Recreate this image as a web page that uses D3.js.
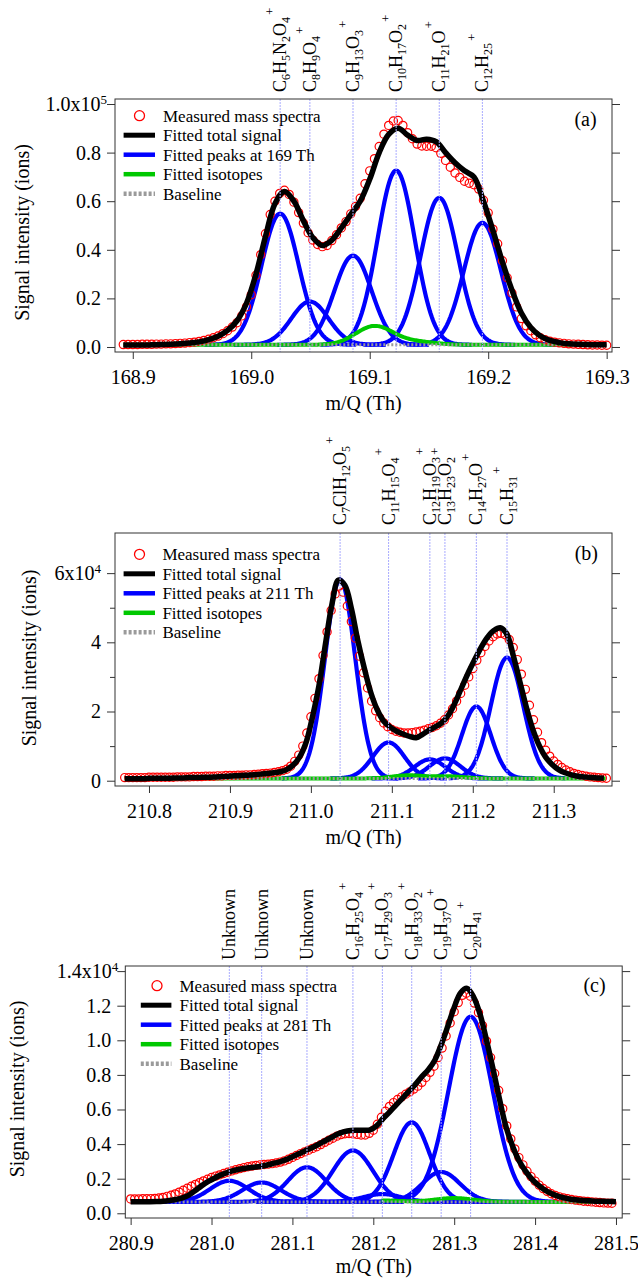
<!DOCTYPE html>
<html>
<head>
<meta charset="utf-8">
<script src="https://cdn.jsdelivr.net/npm/d3@7"></script>
<style>
  body { margin: 0; background: #fff; }
  svg, svg text, svg tspan { font-family: "Liberation Serif", "DejaVu Serif", "Times New Roman", serif; }
  text { fill: #000; }
</style>
</head>
<body>
<div id="chart"></div>
<script>
// ---------- panel (a): 169 Th ----------
const aIons = ["C6H5N2O4", "C8H9O4", "C9H13O3", "C10H17O2", "C11H21O", "C12H25"];
const aIonMass = [169.0244, 169.0495, 169.0859, 169.1223, 169.1587, 169.1951];
const aPeakHeight = [0.54, 0.178, 0.367, 0.717, 0.605, 0.502];
const aPeakFwhm = [0.037, 0.037, 0.037, 0.037, 0.037, 0.037];
const aIsoMass = [169.104, 169.14];
const aIsoHeight = [0.077, 0.012];
const aBaseline = 0.009;
const aMeasStart = 168.892, aMeasStep = 0.004;
const aMeasured = [
  0.010, 0.010, 0.010, 0.010, 0.011, 0.011, 0.011, 0.012, 0.012, 0.013,
  0.013, 0.014, 0.015, 0.016, 0.018, 0.020, 0.023, 0.027, 0.032, 0.038,
  0.045, 0.055, 0.067, 0.082, 0.100, 0.128, 0.165, 0.215, 0.295, 0.380,
  0.466, 0.545, 0.600, 0.632, 0.645, 0.628, 0.596, 0.553, 0.510, 0.470,
  0.440, 0.422, 0.413, 0.418, 0.438, 0.462, 0.490, 0.516, 0.548, 0.578,
  0.612, 0.672, 0.725, 0.775, 0.825, 0.876, 0.912, 0.930, 0.932, 0.912,
  0.882, 0.857, 0.835, 0.827, 0.826, 0.826, 0.820, 0.797, 0.768, 0.740,
  0.716, 0.698, 0.682, 0.674, 0.668, 0.650, 0.604, 0.552, 0.485, 0.425,
  0.355, 0.285, 0.222, 0.165, 0.117, 0.087, 0.067, 0.050, 0.038, 0.030,
  0.024, 0.020, 0.017, 0.015, 0.013, 0.012, 0.011, 0.010, 0.009, 0.008,
  0.008, 0.007, 0.007];
const aFitStart = 168.892, aFitStep = 0.008;
const aFitTotal = [
  0.008, 0.008, 0.008, 0.009, 0.010, 0.011, 0.013, 0.016, 0.021, 0.030,
  0.044, 0.068, 0.108, 0.180, 0.300, 0.455, 0.590, 0.640, 0.600, 0.520,
  0.450, 0.418, 0.440, 0.490, 0.545, 0.600, 0.690, 0.800, 0.875, 0.900,
  0.872, 0.850, 0.855, 0.845, 0.800, 0.758, 0.725, 0.700, 0.600, 0.480,
  0.350, 0.235, 0.140, 0.080, 0.045, 0.027, 0.018, 0.013, 0.011, 0.010,
  0.009, 0.009];
const aTicksX = [168.9, 169.0, 169.1, 169.2, 169.3];
const aTicksY = [0, 0.2, 0.4, 0.6, 0.8, 1.0];
const aTickLabelsY = ["0.0", "0.2", "0.4", "0.6", "0.8", "1.0x10"];
const aLegend = ["Measured mass spectra", "Fitted total signal", "Fitted peaks at 169 Th", "Fitted isotopes", "Baseline"];

// ---------- panel (b): 211 Th ----------
const bIons = ["C7ClH12O5", "C11H15O4", "C12H19O3", "C13H23O2", "C14H27O", "C15H31"];
const bIonMass = [211.0361, 211.096, 211.147, 211.1656, 211.2044, 211.2423];
const bPeakHeight = [5.75, 1.04, 0.55, 0.58, 2.08, 3.49];
const bPeakFwhm = [0.044, 0.046, 0.045, 0.045, 0.042, 0.047];
const bIsoMass = [211.12, 211.17];
const bIsoHeight = [0.09, 0.06];
const bBaseline = 0.065;
const bMeasStart = 210.770, bMeasStep = 0.005;
const bMeasured = [
  0.09, 0.09, 0.09, 0.09, 0.09, 0.09, 0.10, 0.10, 0.10, 0.10,
  0.10, 0.10, 0.10, 0.11, 0.11, 0.11, 0.11, 0.12, 0.12, 0.12,
  0.13, 0.13, 0.13, 0.14, 0.14, 0.15, 0.15, 0.15, 0.16, 0.16,
  0.17, 0.17, 0.18, 0.19, 0.20, 0.21, 0.22, 0.24, 0.26, 0.29,
  0.33, 0.42, 0.56, 0.74, 1.00, 1.38, 1.85, 2.38, 2.95, 3.62,
  4.30, 4.92, 5.40, 5.62, 5.45, 5.05, 4.60, 4.12, 3.60, 3.12,
  2.68, 2.30, 2.02, 1.82, 1.67, 1.56, 1.48, 1.43, 1.40, 1.38,
  1.38, 1.39, 1.41, 1.43, 1.46, 1.50, 1.54, 1.59, 1.66, 1.76,
  1.90, 2.08, 2.30, 2.52, 2.76, 3.00, 3.24, 3.48, 3.70, 3.88,
  4.04, 4.16, 4.24, 4.26, 4.22, 4.08, 3.85, 3.50, 3.08, 2.64,
  2.18, 1.76, 1.40, 1.10, 0.88, 0.71, 0.57, 0.47, 0.38, 0.31,
  0.26, 0.21, 0.18, 0.15, 0.13, 0.11, 0.10, 0.09, 0.08, 0.07];
const bFitStart = 210.770, bFitStep = 0.008;
const bFitTotal = [
  0.06, 0.06, 0.06, 0.06, 0.07, 0.07, 0.07, 0.07, 0.08, 0.08,
  0.09, 0.09, 0.10, 0.10, 0.11, 0.12, 0.13, 0.14, 0.15, 0.16,
  0.17, 0.19, 0.21, 0.23, 0.26, 0.32, 0.45, 0.68, 1.10, 1.85,
  2.75, 3.95, 5.10, 5.80, 5.65, 4.98, 4.05, 3.25, 2.55, 2.05,
  1.72, 1.55, 1.43, 1.35, 1.28, 1.24, 1.34, 1.46, 1.56, 1.68,
  1.90, 2.25, 2.68, 3.10, 3.48, 3.84, 4.14, 4.34, 4.42, 4.24,
  3.62, 2.88, 2.14, 1.50, 1.02, 0.68, 0.47, 0.32, 0.23, 0.17,
  0.13, 0.11, 0.09, 0.08, 0.07];
const bTicksX = [210.8, 210.9, 211.0, 211.1, 211.2, 211.3];
const bTicksY = [0, 2, 4, 6];
const bMinorY = [1, 3, 5];
const bTickLabelsY = ["0", "2", "4", "6x10"];
const bLegend = ["Measured mass spectra", "Fitted total signal", "Fitted peaks at 211 Th", "Fitted isotopes", "Baseline"];

// ---------- panel (c): 281 Th ----------
const cIons = ["Unknown", "Unknown", "Unknown", "C16H25O4", "C17H29O3", "C18H33O2", "C19H37O", "C20H41"];
const cIonMass = [281.022, 281.062, 281.118, 281.1748, 281.2112, 281.2475, 281.2839, 281.3203];
const cPeakHeight = [0.122, 0.112, 0.20, 0.297, 0.045, 0.46, 0.173, 1.07];
const cPeakFwhm = [0.056, 0.056, 0.056, 0.058, 0.055, 0.052, 0.055, 0.064];
const cIsoMass = [281.30, 281.21];
const cIsoHeight = [0.022, 0.008];
const cBaseline = 0.066;
const cMeasStart = 280.900, cMeasStep = 0.005;
const cMeasured = [
  0.083, 0.083, 0.083, 0.084, 0.084, 0.085, 0.086, 0.088, 0.092, 0.098,
  0.104, 0.112, 0.122, 0.133, 0.145, 0.156, 0.167, 0.177, 0.187, 0.197,
  0.207, 0.215, 0.222, 0.230, 0.237, 0.245, 0.252, 0.258, 0.264, 0.269,
  0.273, 0.277, 0.280, 0.282, 0.284, 0.287, 0.291, 0.296, 0.303, 0.312,
  0.323, 0.334, 0.345, 0.355, 0.365, 0.375, 0.385, 0.397, 0.410, 0.422,
  0.434, 0.446, 0.455, 0.460, 0.461, 0.459, 0.456, 0.453, 0.453, 0.462,
  0.480, 0.515, 0.555, 0.590, 0.618, 0.640, 0.658, 0.673, 0.688, 0.702,
  0.718, 0.735, 0.757, 0.785, 0.815, 0.850, 0.900, 0.955, 1.025, 1.100,
  1.165, 1.218, 1.260, 1.272, 1.255, 1.215, 1.160, 1.085, 0.995, 0.900,
  0.808, 0.710, 0.605, 0.505, 0.430, 0.372, 0.322, 0.280, 0.243, 0.212,
  0.186, 0.163, 0.143, 0.127, 0.113, 0.103, 0.095, 0.089, 0.084, 0.080,
  0.076, 0.073, 0.070, 0.068, 0.066, 0.064, 0.062, 0.060, 0.059, 0.058];
const cFitStart = 280.900, cFitStep = 0.008;
const cFitTotal = [
  0.067, 0.067, 0.067, 0.067, 0.068, 0.070, 0.074, 0.080, 0.089, 0.105,
  0.132, 0.160, 0.184, 0.204, 0.222, 0.237, 0.248, 0.256, 0.262, 0.266,
  0.270, 0.278, 0.288, 0.297, 0.310, 0.327, 0.344, 0.362, 0.379, 0.398,
  0.418, 0.438, 0.458, 0.472, 0.479, 0.480, 0.480, 0.482, 0.505, 0.548,
  0.585, 0.625, 0.665, 0.705, 0.745, 0.790, 0.830, 0.885, 0.975, 1.080,
  1.190, 1.275, 1.300, 1.250, 1.150, 1.000, 0.835, 0.660, 0.500, 0.390,
  0.305, 0.245, 0.198, 0.163, 0.135, 0.114, 0.099, 0.089, 0.081, 0.077,
  0.074, 0.072, 0.070, 0.069, 0.068, 0.067];
const cTicksX = [280.9, 281.0, 281.1, 281.2, 281.3, 281.4, 281.5];
const cTicksY = [0, 0.2, 0.4, 0.6, 0.8, 1.0, 1.2, 1.4];
const cTickLabelsY = ["0.0", "0.2", "0.4", "0.6", "0.8", "1.0", "1.2", "1.4x10"];
const cLegend = ["Measured mass spectra", "Fitted total signal", "Fitted peaks at 281 Th", "Fitted isotopes", "Baseline"];

const colMeasured = "#ff0000", colTotal = "#000000", colPeak = "#0000ff",
      colIso = "#00c800", colBase = "#9a9a9a", colGuide = "#a9abff", colAxis = "#333";
const serif = "'Liberation Serif', 'DejaVu Serif', 'Times New Roman', serif";

const panels = [
  { id: "a", letter: "(a)", left: 115, right: 612, top: 99, bottom: 352,
    xDomain: [168.885, 169.3045], yDomain: [-0.0206, 1.0206],
    ions: aIons, ionMass: aIonMass, peakHeight: aPeakHeight, peakFwhm: aPeakFwhm,
    isoMass: aIsoMass, isoHeight: aIsoHeight, isoFwhm: 0.037, isoRange: [168.892, 169.27],
    baseline: aBaseline, peakWin: 0.064,
    measStart: aMeasStart, measStep: aMeasStep, measured: aMeasured,
    fitStart: aFitStart, fitStep: aFitStep, fitTotal: aFitTotal,
    ticksX: aTicksX, ticksY: aTicksY, minorY: [], tickLabelsY: aTickLabelsY, exp: "5", expEnd: -8,
    legend: aLegend, legY: 115.7, legMark: 139.5, legLine: [123.6, 155], legText: 163,
    letterX: 585.5, letterY: 126, yTitle: [22.4, 232.5], ionBottom: 92, titleY: 410 },
  { id: "b", letter: "(b)", left: 115, right: 612, top: 533, bottom: 786,
    xDomain: [210.758, 211.372], yDomain: [-0.153, 7.16],
    ions: bIons, ionMass: bIonMass, peakHeight: bPeakHeight, peakFwhm: bPeakFwhm,
    isoMass: bIsoMass, isoHeight: bIsoHeight, isoFwhm: 0.045, isoRange: [210.77, 211.365],
    baseline: bBaseline, peakWin: 0.072,
    measStart: bMeasStart, measStep: bMeasStep, measured: bMeasured,
    fitStart: bFitStart, fitStep: bFitStep, fitTotal: bFitTotal,
    ticksX: bTicksX, ticksY: bTicksY, minorY: bMinorY, tickLabelsY: bTickLabelsY, exp: "4", expEnd: -14,
    legend: bLegend, legY: 554.3, legMark: 139.5, legLine: [123.6, 155], legText: 162.4,
    letterX: 586.3, letterY: 560, yTitle: [28.6, 658], ionBottom: 525, titleY: 844 },
  { id: "c", letter: "(c)", left: 125.3, right: 622.2, top: 966, bottom: 1218,
    xDomain: [280.8934, 281.5077], yDomain: [-0.0272, 1.4295],
    ions: cIons, ionMass: cIonMass, peakHeight: cPeakHeight, peakFwhm: cPeakFwhm,
    isoMass: cIsoMass, isoHeight: cIsoHeight, isoFwhm: 0.055, isoRange: [281.21, 281.47],
    baseline: cBaseline, peakWin: 0.12,
    measStart: cMeasStart, measStep: cMeasStep, measured: cMeasured,
    fitStart: cFitStart, fitStep: cFitStep, fitTotal: cFitTotal,
    ticksX: cTicksX, ticksY: cTicksY, minorY: [], tickLabelsY: cTickLabelsY, exp: "4", expEnd: -7,
    legend: cLegend, legY: 985.7, legMark: 157, legLine: [140.8, 171.4], legText: 179.5,
    letterX: 594.5, letterY: 992, yTitle: [17.3, 1089], ionBottom: 960, titleY: 1273 }
];

// fitted peak profile (gaussian) from the read centre, height and width
function profile(m, c, h, fwhm) {
  const s = fwhm / 2.3548;
  return h * Math.exp(-0.5 * ((m - c) / s) ** 2);
}

const svg = d3.select("#chart").append("svg")
  .attr("width", 638).attr("height", 1278)
  .attr("font-family", serif);

function drawPanel(p) {
  const x = d3.scaleLinear().domain(p.xDomain).range([p.left, p.right]);
  const y = d3.scaleLinear().domain(p.yDomain).range([p.bottom, p.top]);
  const g = svg.append("g").attr("class", "panel-" + p.id);

  g.append("clipPath").attr("id", "clip-" + p.id)
    .append("rect")
    .attr("x", p.left).attr("y", p.top)
    .attr("width", p.right - p.left).attr("height", p.bottom - p.top);
  const plot = g.append("g").attr("clip-path", "url(#clip-" + p.id + ")");

  const line = d3.line().x(d => x(d[0])).y(d => y(d[1]));

  // fitted peaks
  p.ionMass.forEach(function (c, i) {
    const pts = d3.range(c - p.peakWin, c + p.peakWin + 1e-9, 0.001)
      .map(m => [m, p.baseline + profile(m, c, p.peakHeight[i], p.peakFwhm[i])]);
    plot.append("path")
      .attr("d", line(pts))
      .attr("fill", "none")
      .attr("stroke", colPeak)
      .attr("stroke-width", 4.2);
  });

  // fitted isotopes
  const isoPts = d3.range(p.isoRange[0], p.isoRange[1], 0.001).map(function (m) {
    let v = p.baseline;
    p.isoMass.forEach((c, i) => { v += profile(m, c, p.isoHeight[i], p.isoFwhm); });
    return [m, v];
  });
  plot.append("path")
    .attr("d", line(isoPts))
    .attr("fill", "none")
    .attr("stroke", colIso)
    .attr("stroke-width", 4);

  // measured spectrum
  plot.selectAll(".meas")
    .data(p.measured)
    .enter()
    .append("circle")
    .attr("class", "meas")
    .attr("cx", (d, i) => x(p.measStart + i * p.measStep))
    .attr("cy", d => y(d))
    .attr("r", 4.1)
    .attr("fill", "none")
    .attr("stroke", colMeasured)
    .attr("stroke-width", 1.2);

  // baseline
  plot.append("line")
    .attr("x1", x(p.fitStart)).attr("x2", x(p.fitStart + (p.fitTotal.length - 1) * p.fitStep))
    .attr("y1", y(p.baseline)).attr("y2", y(p.baseline))
    .attr("stroke", colBase).attr("stroke-width", 3)
    .attr("stroke-dasharray", "2,2");

  // fitted total
  plot.append("path")
    .attr("d", d3.line()
      .x((d, i) => x(p.fitStart + i * p.fitStep))
      .y(d => y(d))
      .curve(d3.curveCatmullRom.alpha(0.5))(p.fitTotal))
    .attr("fill", "none")
    .attr("stroke", colTotal)
    .attr("stroke-width", 5.5);

  // ion position guides
  g.selectAll(".guide")
    .data(p.ionMass)
    .enter()
    .append("line")
    .attr("class", "guide")
    .attr("x1", d => x(d)).attr("x2", d => x(d))
    .attr("y1", p.top).attr("y2", p.bottom)
    .attr("stroke", colGuide)
    .attr("stroke-width", 1)
    .attr("stroke-dasharray", "2,1");

  // frame
  g.append("rect")
    .attr("x", p.left).attr("y", p.top)
    .attr("width", p.right - p.left).attr("height", p.bottom - p.top)
    .attr("fill", "none").attr("stroke", colAxis).attr("stroke-width", 1);

  // axes
  const xAxis = g.append("g")
    .attr("transform", "translate(0," + p.bottom + ")")
    .call(d3.axisBottom(x).tickValues(p.ticksX).tickSize(7).tickPadding(10.8)
      .tickFormat(d3.format(".1f")));
  const yAxis = g.append("g")
    .attr("transform", "translate(" + p.left + ",0)")
    .call(d3.axisLeft(y).tickValues(p.ticksY).tickSize(8).tickPadding(6)
      .tickFormat((d, i) => p.tickLabelsY[i]));
  g.append("g")
    .attr("transform", "translate(" + p.right + ",0)")
    .call(d3.axisRight(y).tickValues(p.ticksY).tickSize(8).tickFormat(""));
  if (p.minorY.length) {
    g.append("g").attr("transform", "translate(" + p.left + ",0)")
      .call(d3.axisLeft(y).tickValues(p.minorY).tickSize(5).tickFormat(""));
    g.append("g").attr("transform", "translate(" + p.right + ",0)")
      .call(d3.axisRight(y).tickValues(p.minorY).tickSize(5).tickFormat(""));
  }
  g.selectAll(".domain").remove();
  g.selectAll(".tick line").attr("stroke", colAxis);
  [xAxis, yAxis].forEach(a => a.attr("font-family", serif).attr("font-size", 20));

  // exponent on the top y label
  const topLabel = yAxis.selectAll(".tick text").filter((d, i) => i === p.ticksY.length - 1);
  topLabel.attr("x", p.expEnd)
    .append("tspan")
    .attr("dy", "-0.55em")
    .attr("font-size", 13)
    .text(p.exp);

  // axis titles
  g.append("text")
    .attr("x", (p.left + p.right) / 2)
    .attr("y", p.titleY)
    .attr("text-anchor", "middle")
    .attr("font-size", 20)
    .text("m/Q (Th)");
  g.append("text")
    .attr("transform", "translate(" + p.yTitle[0] + "," + p.yTitle[1] + ") rotate(-90)")
    .attr("dy", "0.35em")
    .attr("text-anchor", "middle")
    .attr("font-size", 20)
    .text("Signal intensity (ions)");

  // panel letter
  g.append("text")
    .attr("x", p.letterX).attr("y", p.letterY)
    .attr("text-anchor", "middle")
    .attr("font-size", 20)
    .text(p.letter);

  // legend
  const leg = g.append("g");
  const legColors = [colMeasured, colTotal, colPeak, colIso, colBase];
  p.legend.forEach(function (name, i) {
    const ly = p.legY + i * 19.5;
    if (i === 0) {
      leg.append("circle").attr("cx", p.legMark).attr("cy", ly).attr("r", 5)
        .attr("fill", "none").attr("stroke", colMeasured).attr("stroke-width", 1.3);
    } else {
      leg.append("line")
        .attr("x1", p.legLine[0]).attr("x2", p.legLine[1])
        .attr("y1", ly).attr("y2", ly)
        .attr("stroke", legColors[i])
        .attr("stroke-width", i === 1 ? 5 : 4.5)
        .attr("stroke-dasharray", i === 4 ? "3,2" : null);
    }
    leg.append("text")
      .attr("x", p.legText).attr("y", ly)
      .attr("dy", "0.35em")
      .attr("font-size", 17)
      .text(name);
  });

  // ion labels above the frame
  p.ions.forEach(function (name, i) {
    const t = g.append("text")
      .attr("transform", "translate(" + x(p.ionMass[i]) + "," + p.ionBottom + ") rotate(-90)")
      .attr("y", 6)
      .attr("font-size", 18);
    const parts = name.match(/[A-Z][a-z]*|\d+/g);
    let cur = 0;
    parts.forEach(function (s) {
      const isNum = /^\d+$/.test(s);
      const target = isNum ? 4 : 0;
      t.append("tspan")
        .attr("dy", target - cur)
        .attr("font-size", isNum ? 12 : 18)
        .text(s);
      cur = target;
    });
    if (name !== "Unknown") {
      t.append("tspan")
        .attr("dx", 2)
        .attr("dy", -12 - cur)
        .attr("font-size", 13)
        .text("+");
    }
  });
}

panels.forEach(drawPanel);
</script>
</body>
</html>
